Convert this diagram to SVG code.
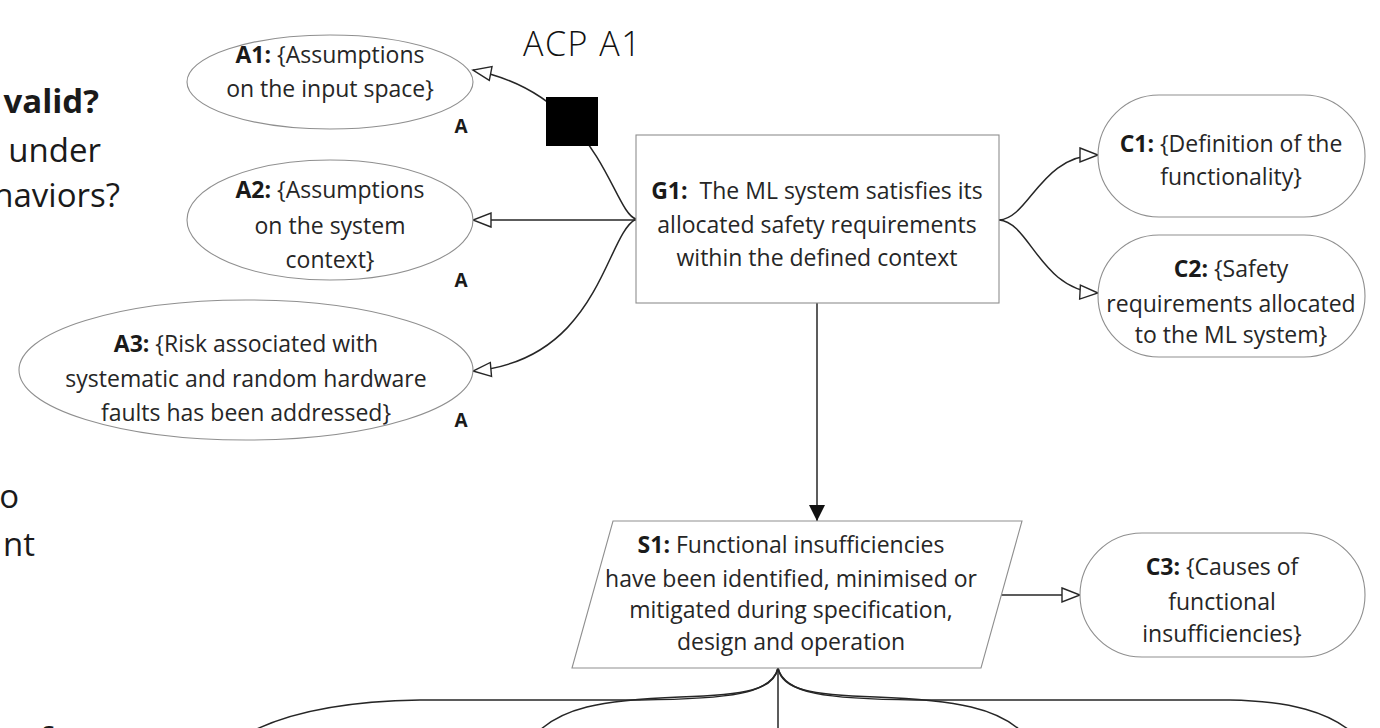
<svg xmlns="http://www.w3.org/2000/svg" width="1380" height="728" viewBox="0 0 1380 728">
  <style>
    .t { font-family: "Open Sans", "Noto Sans", "Liberation Sans", sans-serif; font-size: 23px; fill: #262626; text-anchor: middle; }
    .b { font-weight: 700; fill: #1a1a1a; }
    .tag { font-family: "Open Sans", "Noto Sans", "Liberation Sans", sans-serif; font-size: 19px; font-weight: 700; fill: #1a1a1a; text-anchor: middle; }
    .slide { font-family: "Open Sans", "Noto Sans", "Liberation Sans", sans-serif; font-size: 33px; fill: #1a1a1a; text-anchor: end; }
    .shape { fill: #ffffff; stroke: #8f8f8f; stroke-width: 1.1; }
    .link { fill: none; stroke: #262626; stroke-width: 1.5; }
  </style>
  <defs>
    <marker id="open" viewBox="-2 -2 22 18" refX="18" refY="7" markerWidth="22" markerHeight="18" markerUnits="userSpaceOnUse" orient="auto" overflow="visible">
      <path d="M0,0 L18,7 L0,14 Z" fill="#ffffff" stroke="#262626" stroke-width="1.4" stroke-linejoin="miter"/>
    </marker>
    <marker id="solid" viewBox="0 0 16 16" refX="16" refY="8" markerWidth="16" markerHeight="16" markerUnits="userSpaceOnUse" orient="auto">
      <path d="M0,0 L16,8 L0,16 Z" fill="#111111"/>
    </marker>
  </defs>

  <rect x="0" y="0" width="1380" height="728" fill="#ffffff"/>

  <!-- slide text running behind the diagram -->
  <g id="slide-text">
    <text class="slide" x="99" y="113" font-weight="700">valid?</text>
    <text class="slide" x="101" y="162">under</text>
    <text class="slide" x="120" y="207">haviors?</text>
    <text class="slide" x="19" y="508">o</text>
    <text class="slide" x="35" y="556">nt</text>
    <text class="slide" x="52" y="751" font-weight="700">f</text>
    <text x="523" y="56" font-family="'Open Sans', 'Noto Sans', 'Liberation Sans', sans-serif" font-size="34" font-weight="300" fill="#111111" letter-spacing="1.5">ACP A1</text>
  </g>

  <!-- connectors -->
  <g id="connectors">
    <path class="link" d="M636 219 C 612 212, 600 95, 473 70" marker-end="url(#open)"/>
    <path class="link" d="M636 220 L 473 220" marker-end="url(#open)"/>
    <path class="link" d="M636 219 C 605 235, 600 360, 473 371" marker-end="url(#open)"/>
    <path class="link" d="M999 220 C 1030 218, 1040 155, 1098 155" marker-end="url(#open)"/>
    <path class="link" d="M999 220 C 1030 222, 1040 290, 1098 293" marker-end="url(#open)"/>
    <path class="link" d="M817 303 L 817 521" marker-end="url(#solid)"/>
    <path class="link" d="M1001 595 L 1080 595" marker-end="url(#open)"/>
    <!-- supported-by fan below S1 -->
    <path class="link" d="M778 668 C 772 694, 730 699, 640 700 L 420 700 C 350 701, 290 710, 245 735"/>
    <path class="link" d="M778 668 C 774 690, 745 695, 680 697 C 600 700, 560 708, 535 735"/>
    <path class="link" d="M778 668 L 778 735"/>
    <path class="link" d="M778 668 C 782 690, 811 695, 876 697 C 956 700, 1000 708, 1025 735"/>
    <path class="link" d="M778 668 C 784 694, 826 699, 916 700 L 1230 700 C 1290 701, 1330 712, 1355 735"/>
  </g>

  <!-- black block over the A1 link -->
  <rect id="redaction" x="546" y="97" width="52" height="49" fill="#000000"/>

  <g id="A1">
    <ellipse class="shape" cx="330" cy="82" rx="143" ry="47"/>
    <text class="t" x="330" y="63"><tspan class="b">A1:</tspan> {Assumptions</text>
    <text class="t" x="330" y="97">on the input space}</text>
    <text class="tag" x="461" y="133">A</text>
  </g>

  <g id="A2">
    <ellipse class="shape" cx="330" cy="220" rx="143" ry="60"/>
    <text class="t" x="330" y="198"><tspan class="b">A2:</tspan> {Assumptions</text>
    <text class="t" x="330" y="234">on the system</text>
    <text class="t" x="330" y="268">context}</text>
    <text class="tag" x="461" y="287">A</text>
  </g>

  <g id="A3">
    <ellipse class="shape" cx="246" cy="370" rx="227" ry="70"/>
    <text class="t" x="246" y="352"><tspan class="b">A3:</tspan> {Risk associated with</text>
    <text class="t" x="246" y="387">systematic and random hardware</text>
    <text class="t" x="246" y="421">faults has been addressed}</text>
    <text class="tag" x="461" y="427">A</text>
  </g>

  <g id="G1">
    <rect class="shape" x="636" y="135" width="363" height="168"/>
    <text class="t" x="817" y="199"><tspan class="b">G1:</tspan><tspan dx="6"> The ML system satisfies its</tspan></text>
    <text class="t" x="817" y="233">allocated safety requirements</text>
    <text class="t" x="817" y="266">within the defined context</text>
  </g>

  <g id="C1">
    <rect class="shape" x="1098" y="95" width="267" height="122" rx="61" ry="61"/>
    <text class="t" x="1231" y="152"><tspan class="b">C1:</tspan> {Definition of the</text>
    <text class="t" x="1231" y="185">functionality}</text>
  </g>

  <g id="C2">
    <rect class="shape" x="1098" y="235" width="267" height="122" rx="61" ry="61"/>
    <text class="t" x="1231" y="277"><tspan class="b">C2:</tspan> {Safety</text>
    <text class="t" x="1231" y="312">requirements allocated</text>
    <text class="t" x="1231" y="343">to the ML system}</text>
  </g>

  <g id="S1">
    <polygon class="shape" points="613,521 1022,521 981,668 572,668"/>
    <text class="t" x="791" y="553"><tspan class="b">S1:</tspan> Functional insufficiencies</text>
    <text class="t" x="791" y="587">have been identified, minimised or</text>
    <text class="t" x="791" y="618">mitigated during specification,</text>
    <text class="t" x="791" y="650">design and operation</text>
  </g>

  <g id="C3">
    <rect class="shape" x="1080" y="533" width="285" height="124" rx="62" ry="62"/>
    <text class="t" x="1222" y="575"><tspan class="b">C3:</tspan> {Causes of</text>
    <text class="t" x="1222" y="610">functional</text>
    <text class="t" x="1222" y="642">insufficiencies}</text>
  </g>
</svg>
